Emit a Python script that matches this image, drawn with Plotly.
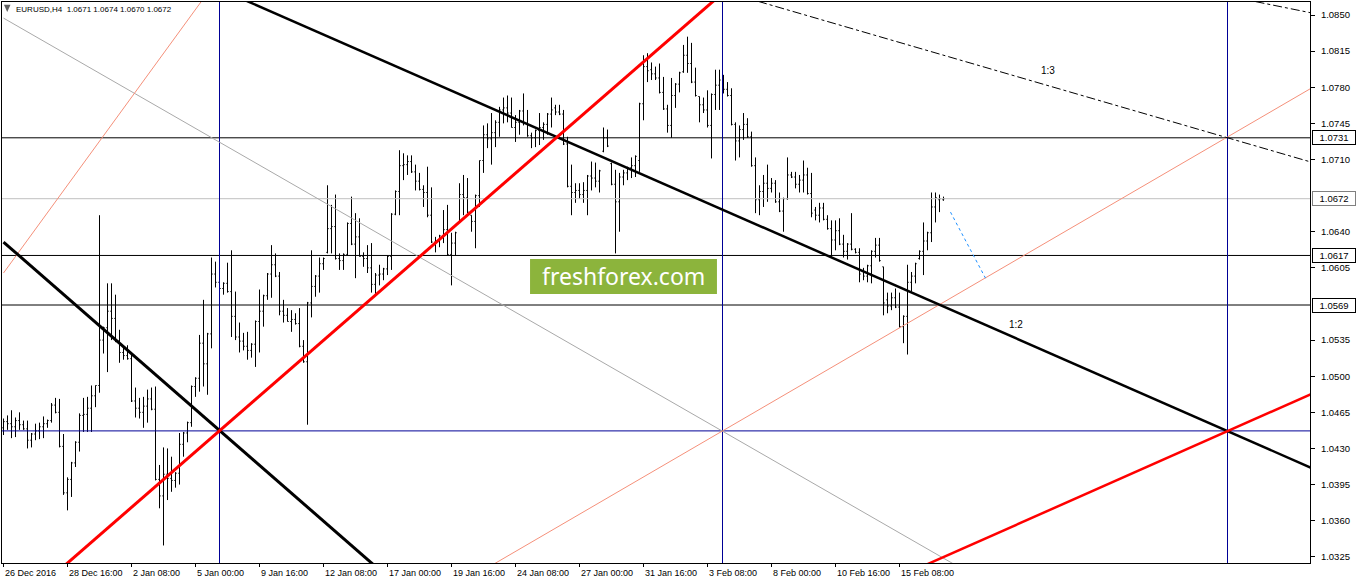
import plotly.graph_objects as go

# ---------------- data (EURUSD H4, bar index 0 = 26 Dec 2016 00:00) ----------------
opens = [
1.0450,1.0456,1.0454,1.0451,1.0457,1.0453,1.0449,1.0438,1.0444,1.0447,
1.0451,1.0454,1.0457,1.0472,1.0465,1.0432,1.0387,1.0400,1.0416,1.0436,
1.0462,1.0463,1.0469,1.0481,1.0491,1.0535,1.0547,1.0563,1.0556,1.0534,
1.0523,1.0520,1.0517,1.0476,1.0469,1.0465,1.0471,1.0478,1.0468,1.0400,
1.0384,1.0405,1.0401,1.0399,1.0406,1.0434,1.0445,1.0455,1.0490,1.0498,
1.0532,1.0512,1.0541,1.0599,1.0591,1.0585,1.0590,1.0582,1.0558,1.0538,
1.0534,1.0529,1.0525,1.0531,1.0553,1.0563,1.0578,1.0599,1.0608,1.0597,
1.0563,1.0559,1.0553,1.0555,1.0551,1.0529,1.0514,1.0571,1.0587,1.0597,
1.0609,1.0620,1.0643,1.0645,1.0614,1.0612,1.0618,1.0648,1.0628,1.0635,
1.0616,1.0614,1.0605,1.0589,1.0598,1.0599,1.0604,1.0616,1.0657,1.0679,
1.0704,1.0705,1.0708,1.0698,1.0689,1.0681,1.0678,1.0656,1.0630,1.0631,
1.0636,1.0642,1.0618,1.0629,1.0649,1.0676,1.0673,1.0656,1.0650,1.0675,
1.0709,1.0734,1.0730,1.0736,1.0746,1.0758,1.0760,1.0755,1.0741,1.0746,
1.0757,1.0745,1.0733,1.0731,1.0738,1.0741,1.0744,1.0754,1.0760,1.0756,
1.0754,1.0725,1.0684,1.0678,1.0680,1.0676,1.0680,1.0694,1.0692,1.0689,
1.0718,1.0731,1.0706,1.0686,1.0669,1.0693,1.0697,1.0702,1.0704,1.0709,
1.0764,1.0800,1.0797,1.0793,1.0789,1.0775,1.0759,1.0743,1.0772,1.0783,
1.0795,1.0811,1.0803,1.0785,1.0771,1.0763,1.0758,1.0743,1.0773,1.0782,
1.0787,1.0778,1.0772,1.0744,1.0728,1.0739,1.0744,1.0732,1.0704,1.0671,
1.0679,1.0687,1.0682,1.0687,1.0669,1.0660,1.0672,1.0695,1.0693,1.0686,
1.0690,1.0695,1.0677,1.0661,1.0656,1.0663,1.0652,1.0643,1.0632,1.0641,
1.0628,1.0621,1.0628,1.0623,1.0620,1.0602,1.0597,1.0607,1.0621,1.0627,
1.0606,1.0574,1.0568,1.0576,1.0567,1.0548,1.0558,1.0591,1.0597,1.0614,
1.0621,1.0631,1.0639,1.0664,1.0671,1.0671]

highs = [
1.0459,1.0462,1.0467,1.0460,1.0465,1.0457,1.0457,1.0445,1.0454,1.0455,
1.0461,1.0458,1.0474,1.0479,1.0478,1.0444,1.0402,1.0417,1.0437,1.0464,
1.0479,1.0480,1.0491,1.0491,1.0656,1.0548,1.0590,1.0590,1.0579,1.0545,
1.0530,1.0530,1.0522,1.0489,1.0479,1.0480,1.0487,1.0489,1.0490,1.0414,
1.0431,1.0430,1.0422,1.0407,1.0445,1.0446,1.0456,1.0491,1.0499,1.0540,
1.0574,1.0542,1.0615,1.0611,1.0610,1.0591,1.0610,1.0622,1.0582,1.0552,
1.0542,1.0543,1.0532,1.0554,1.0584,1.0579,1.0600,1.0627,1.0619,1.0601,
1.0574,1.0566,1.0564,1.0561,1.0566,1.0535,1.0572,1.0622,1.0598,1.0615,
1.0615,1.0685,1.0666,1.0676,1.0619,1.0619,1.0649,1.0674,1.0658,1.0653,
1.0620,1.0627,1.0629,1.0600,1.0608,1.0605,1.0617,1.0658,1.0680,1.0719,
1.0716,1.0714,1.0714,1.0705,1.0697,1.0685,1.0703,1.0683,1.0635,1.0637,
1.0661,1.0666,1.0639,1.0640,1.0687,1.0695,1.0692,1.0656,1.0676,1.0709,
1.0743,1.0745,1.0755,1.0748,1.0761,1.0770,1.0772,1.0770,1.0753,1.0758,
1.0774,1.0758,1.0736,1.0739,1.0755,1.0746,1.0755,1.0770,1.0763,1.0763,
1.0758,1.0732,1.0705,1.0687,1.0687,1.0688,1.0695,1.0708,1.0707,1.0700,
1.0741,1.0739,1.0707,1.0700,1.0697,1.0700,1.0703,1.0712,1.0714,1.0765,
1.0811,1.0813,1.0804,1.0800,1.0803,1.0790,1.0763,1.0789,1.0784,1.0795,
1.0821,1.0829,1.0823,1.0799,1.0771,1.0770,1.0777,1.0774,1.0797,1.0797,
1.0792,1.0785,1.0779,1.0746,1.0743,1.0755,1.0750,1.0737,1.0712,1.0685,
1.0695,1.0705,1.0692,1.0690,1.0678,1.0673,1.0712,1.0698,1.0698,1.0695,
1.0709,1.0702,1.0697,1.0664,1.0668,1.0668,1.0656,1.0651,1.0651,1.0653,
1.0637,1.0629,1.0658,1.0624,1.0624,1.0605,1.0608,1.0622,1.0634,1.0634,
1.0606,1.0581,1.0581,1.0585,1.0581,1.0559,1.0608,1.0601,1.0610,1.0622,
1.0649,1.0640,1.0678,1.0678,1.0676,1.0674]

lows = [
1.0443,1.0448,1.0440,1.0441,1.0448,1.0448,1.0430,1.0431,1.0438,1.0439,
1.0440,1.0450,1.0455,1.0464,1.0431,1.0385,1.0370,1.0383,1.0412,1.0427,
1.0446,1.0446,1.0446,1.0470,1.0484,1.0522,1.0504,1.0535,1.0533,1.0513,
1.0516,1.0516,1.0475,1.0460,1.0459,1.0450,1.0455,1.0467,1.0399,1.0372,
1.0336,1.0380,1.0388,1.0392,1.0395,1.0422,1.0436,1.0451,1.0480,1.0485,
1.0490,1.0482,1.0527,1.0586,1.0572,1.0579,1.0581,1.0538,1.0535,1.0523,
1.0525,1.0516,1.0518,1.0509,1.0523,1.0548,1.0574,1.0576,1.0596,1.0559,
1.0552,1.0553,1.0543,1.0550,1.0528,1.0513,1.0453,1.0557,1.0577,1.0581,
1.0603,1.0619,1.0619,1.0613,1.0603,1.0603,1.0617,1.0627,1.0595,1.0616,
1.0606,1.0600,1.0581,1.0579,1.0588,1.0593,1.0598,1.0603,1.0656,1.0656,
1.0690,1.0695,1.0697,1.0680,1.0680,1.0664,1.0654,1.0629,1.0620,1.0625,
1.0629,1.0617,1.0588,1.0617,1.0649,1.0656,1.0658,1.0640,1.0624,1.0664,
1.0697,1.0721,1.0705,1.0722,1.0732,1.0745,1.0746,1.0741,1.0727,1.0734,
1.0743,1.0732,1.0721,1.0722,1.0724,1.0729,1.0734,1.0741,1.0753,1.0753,
1.0724,1.0683,1.0656,1.0668,1.0672,1.0668,1.0656,1.0680,1.0683,1.0678,
1.0717,1.0722,1.0685,1.0619,1.0640,1.0685,1.0690,1.0692,1.0693,1.0698,
1.0748,1.0785,1.0787,1.0787,1.0774,1.0758,1.0736,1.0731,1.0760,1.0775,
1.0794,1.0794,1.0784,1.0771,1.0746,1.0755,1.0741,1.0711,1.0758,1.0758,
1.0774,1.0771,1.0743,1.0709,1.0712,1.0729,1.0731,1.0703,1.0658,1.0656,
1.0664,1.0669,1.0678,1.0668,1.0659,1.0640,1.0671,1.0692,1.0682,1.0678,
1.0678,1.0676,1.0654,1.0651,1.0649,1.0651,1.0642,1.0615,1.0622,1.0627,
1.0615,1.0613,1.0622,1.0619,1.0591,1.0593,1.0591,1.0590,1.0615,1.0611,
1.0559,1.0561,1.0564,1.0566,1.0547,1.0532,1.0521,1.0582,1.0590,1.0613,
1.0598,1.0622,1.0630,1.0649,1.0659,1.0670]

closes = [
1.0456,1.0454,1.0451,1.0457,1.0453,1.0449,1.0438,1.0444,1.0447,1.0451,
1.0454,1.0457,1.0472,1.0465,1.0432,1.0387,1.0400,1.0416,1.0436,1.0462,
1.0463,1.0469,1.0481,1.0491,1.0535,1.0547,1.0563,1.0556,1.0534,1.0523,
1.0520,1.0517,1.0476,1.0469,1.0465,1.0471,1.0478,1.0468,1.0400,1.0384,
1.0405,1.0401,1.0399,1.0406,1.0434,1.0445,1.0455,1.0490,1.0498,1.0532,
1.0512,1.0541,1.0599,1.0591,1.0585,1.0590,1.0582,1.0558,1.0538,1.0534,
1.0529,1.0525,1.0531,1.0553,1.0563,1.0578,1.0599,1.0608,1.0597,1.0563,
1.0559,1.0553,1.0555,1.0551,1.0529,1.0514,1.0571,1.0587,1.0597,1.0609,
1.0614,1.0643,1.0645,1.0614,1.0612,1.0618,1.0648,1.0628,1.0635,1.0616,
1.0614,1.0605,1.0589,1.0598,1.0599,1.0604,1.0616,1.0657,1.0679,1.0704,
1.0705,1.0708,1.0698,1.0689,1.0681,1.0678,1.0656,1.0630,1.0631,1.0636,
1.0642,1.0618,1.0629,1.0639,1.0676,1.0673,1.0659,1.0650,1.0675,1.0709,
1.0734,1.0730,1.0736,1.0746,1.0758,1.0760,1.0755,1.0741,1.0746,1.0757,
1.0745,1.0733,1.0731,1.0738,1.0741,1.0744,1.0754,1.0758,1.0756,1.0754,
1.0725,1.0684,1.0678,1.0680,1.0676,1.0680,1.0694,1.0692,1.0689,1.0699,
1.0731,1.0723,1.0686,1.0669,1.0693,1.0697,1.0702,1.0704,1.0713,1.0764,
1.0800,1.0796,1.0793,1.0789,1.0775,1.0759,1.0743,1.0772,1.0783,1.0794,
1.0811,1.0803,1.0785,1.0772,1.0763,1.0758,1.0743,1.0773,1.0782,1.0787,
1.0778,1.0772,1.0744,1.0728,1.0739,1.0744,1.0732,1.0704,1.0671,1.0679,
1.0687,1.0682,1.0687,1.0669,1.0660,1.0672,1.0695,1.0693,1.0686,1.0690,
1.0695,1.0677,1.0658,1.0656,1.0663,1.0652,1.0643,1.0632,1.0641,1.0628,
1.0621,1.0628,1.0623,1.0620,1.0599,1.0597,1.0607,1.0621,1.0627,1.0612,
1.0571,1.0568,1.0576,1.0567,1.0548,1.0558,1.0591,1.0597,1.0609,1.0621,
1.0631,1.0639,1.0664,1.0673,1.0672,1.0672]

bar_index = list(range(len(closes)))

date_tick_index = [0, 16, 32, 48, 64, 80, 96, 112, 128, 144, 160, 176, 192, 208, 224]
date_tick_labels = ["26 Dec 2016", "28 Dec 16:00", "2 Jan 08:00", "5 Jan 00:00", "9 Jan 16:00",
                    "12 Jan 08:00", "17 Jan 00:00", "19 Jan 16:00", "24 Jan 08:00", "27 Jan 00:00",
                    "31 Jan 16:00", "3 Feb 08:00", "8 Feb 00:00", "10 Feb 16:00", "15 Feb 08:00"]

price_ticks = [1.0850, 1.0815, 1.0780, 1.0745, 1.0710, 1.0640, 1.0605,
               1.0535, 1.0500, 1.0465, 1.0430, 1.0395, 1.0360, 1.0325]

# drawn objects (bar index, price)
black_levels = [1.0731, 1.0617, 1.0569]
bid_level = 1.0672
blue_level = 1.0447
blue_verticals = [54, 179.75, 306]

thick_black_1 = ([0, 100], [1.0630, 1.0292])
thick_black_2 = ([60, 330], [1.0865, 1.0406])
thick_red_1 = ([0, 180], [1.0265, 1.0872])
thick_red_2 = ([220, 330], [1.0299, 1.0488])
thin_gray = ([0, 260], [1.0847, 1.0268])
thin_salmon_1 = ([0, 50], [1.0600, 1.0866])
thin_salmon_2 = ([100, 330], [1.0267, 1.0786])
dashdot_1 = ([180, 330], [1.0873, 1.0704])
dashdot_2 = ([313, 327], [1.0863, 1.0852])
blue_projection = ([236.75, 245.5], [1.0659, 1.0595])

ratio_labels = [("1:3", 261, 1.0796), ("1:2", 253, 1.0550)]

# ---------------- figure ----------------
XR = [-0.375, 326.625]
YR = [1.03190, 1.08626]
FONT = "Liberation Sans, Arial, sans-serif"
LEVEL_BLUE = "#000096"

fig = go.Figure()

def seg(xs, ys, color, width, dash="solid"):
    fig.add_trace(go.Scatter(x=xs, y=ys, mode="lines", hoverinfo="skip",
                             line=dict(color=color, width=width, dash=dash),
                             showlegend=False))

# background levels
for lv in black_levels:
    seg(XR, [lv, lv], "black", 1)
seg(XR, [bid_level, bid_level], "#C0C0C0", 1)
seg(XR, [blue_level, blue_level], LEVEL_BLUE, 1)
for vx in blue_verticals:
    seg([vx, vx], YR, LEVEL_BLUE, 1)

# thin lines
seg(*thin_gray, "#A9A9A9", 1)
seg(*thin_salmon_1, "#F5907A", 1)
seg(*thin_salmon_2, "#F5907A", 1)

# bars
fig.add_trace(go.Ohlc(x=bar_index, open=opens, high=highs, low=lows, close=closes,
                      increasing=dict(line=dict(color="black", width=1)),
                      decreasing=dict(line=dict(color="black", width=1)),
                      tickwidth=0.3, hoverinfo="skip", showlegend=False))

# thick lines
seg(*thick_black_1, "black", 3)
seg(*thick_black_2, "black", 2.5)
seg(*thick_red_1, "#FF0000", 3)
seg(*thick_red_2, "#FF0000", 2.5)
seg(*dashdot_1, "black", 1, "dashdot")
seg(*dashdot_2, "black", 1, "dashdot")
seg(*blue_projection, "#1E90FF", 1, "dot")

annotations = []
for txt, xi, yp in ratio_labels:
    annotations.append(dict(x=xi, y=yp, xref="x", yref="y", text=txt, showarrow=False,
                            font=dict(family=FONT, size=10, color="black")))
for xi, lab in zip(date_tick_index, date_tick_labels):
    annotations.append(dict(x=xi, y=0, xref="x", yref="paper", yanchor="top", xanchor="left",
                            yshift=-3, xshift=-1, text=lab, showarrow=False,
                            font=dict(family=FONT, size=9, color="black")))
for lv, bc in [(1.0731, "black"), (1.0672, "#808080"), (1.0617, "black"), (1.0569, "black")]:
    annotations.append(dict(x=1, y=lv, xref="paper", yref="y", xanchor="left", xshift=2,
                            text="%.4f" % lv, showarrow=False, bgcolor="white",
                            bordercolor=bc, borderwidth=1, borderpad=1, width=40,
                            font=dict(family=FONT, size=9.5, color="black")))
annotations.append(dict(x=0.009, y=0.986, xref="paper", yref="paper", xanchor="left",
                        yanchor="middle", showarrow=False,
                        text="EURUSD,H4  1.0671 1.0674 1.0670 1.0672",
                        font=dict(family=FONT, size=8, color="black")))
annotations.append(dict(x=0.4752, y=0.5107, xref="paper", yref="paper", showarrow=False,
                        text="freshforex.com",
                        font=dict(family="Noto Sans, Open Sans, sans-serif", size=23, color="white")))

shapes = [dict(type="rect", xref="paper", yref="paper", x0=0.4037, x1=0.5466,
               y0=0.4795, y1=0.5419, fillcolor="#8CB43C", line=dict(width=0), layer="above"),
          dict(type="path", xref="paper", yref="paper",
               path="M 0.0015 0.995 L 0.0065 0.995 L 0.004 0.982 Z",
               fillcolor="#606060", line=dict(width=0))]

fig.update_layout(
    template="none",
    width=1358, height=584,
    margin=dict(l=2, r=48, t=2, b=21, autoexpand=False),
    paper_bgcolor="white", plot_bgcolor="white",
    showlegend=False, hovermode=False,
    annotations=annotations, shapes=shapes,
    xaxis=dict(range=XR, showgrid=False, zeroline=False, rangeslider=dict(visible=False),
               automargin=False,
               showline=True, mirror=True, linecolor="black", linewidth=1,
               tickvals=date_tick_index, ticks="outside", ticklen=3, tickcolor="black",
               showticklabels=False, fixedrange=True),
    yaxis=dict(range=YR, side="right", showgrid=False, zeroline=False, automargin=False,
               showline=True, mirror=True, linecolor="black", linewidth=1,
               tickvals=price_ticks, ticktext=["%.4f" % v for v in price_ticks],
               ticks="outside", ticklen=4, tickcolor="black", ticklabelstandoff=4,
               tickfont=dict(family=FONT, size=9.5, color="black"), fixedrange=True),
    font=dict(family=FONT, size=9, color="black"),
)

fig.write_html("out.html", config={"displayModeBar": False},
               post_script="document.body.style.margin='0';document.body.style.padding='0';"
                           "document.body.style.overflow='hidden';")
